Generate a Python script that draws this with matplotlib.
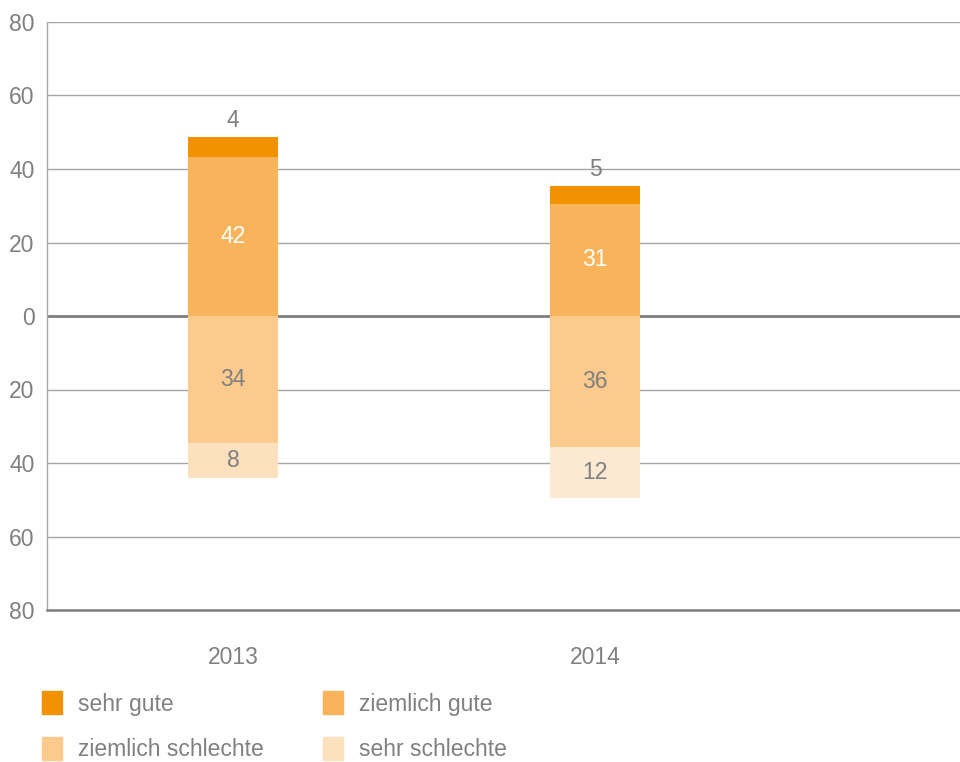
"""
Diverging stacked bars: good vs bad ratings, 2013 / 2014
"""

import numpy as np
import matplotlib.pyplot as plt
from matplotlib.patches import Rectangle
from matplotlib.ticker import FuncFormatter

plt.rcParams['font.family'] = ['Liberation Sans', 'DejaVu Sans']

years = ['2013', '2014']
categories = ['sehr gute', 'ziemlich gute', 'ziemlich schlechte', 'sehr schlechte']
colors = ['#F39200', '#F8B35B', '#FCCA8C', '#FDE0BD']
ss_colors = ['#FDE0BD', '#FDE8D1']   # 2014 segment is drawn a touch lighter

# bar heights (shares in %)
sehr_gute = [5.3, 4.8]
ziemlich_gute = [43.4, 30.6]
ziemlich_schlechte = [34.6, 35.7]
sehr_schlechte = [9.5, 13.9]

# printed labels
lbl_sehr_gute = ['4', '5']
lbl_ziemlich_gute = ['42', '31']
lbl_ziemlich_schlechte = ['34', '36']
lbl_sehr_schlechte = ['8', '12']

grey = '#808080'
fs = 16.5

fig = plt.figure(figsize=(9.6, 7.62), dpi=100)
ax = fig.add_axes([47/960, 1-610/762, 1-47/960, (610-22)/762])

x = np.arange(len(years))
w = 0.25
zg = np.array(ziemlich_gute)
sg = np.array(sehr_gute)
zs = -np.array(ziemlich_schlechte)
ss = -np.array(sehr_schlechte)

ax.bar(x, zg, w, color=colors[1], zorder=3)
ax.bar(x, sg, w, bottom=zg, color=colors[0], zorder=3)
ax.bar(x, zs, w, color=colors[2], zorder=3)
ax.bar(x, ss, w, bottom=zs, color=ss_colors, zorder=3)

for i in range(len(years)):
    ax.text(x[i], zg[i]/2, lbl_ziemlich_gute[i], ha='center', va='center',
            color='white', fontsize=fs, zorder=4)
    ax.annotate(lbl_sehr_gute[i], (x[i], zg[i]+sg[i]), xytext=(0, 12),
                textcoords='offset points', ha='center', va='center',
                color=grey, fontsize=fs)
    ax.text(x[i], zs[i]/2, lbl_ziemlich_schlechte[i], ha='center', va='center',
            color=grey, fontsize=fs, zorder=4)
    ax.text(x[i], zs[i]+ss[i]/2, lbl_sehr_schlechte[i], ha='center', va='center',
            color=grey, fontsize=fs, zorder=4)

ax.set_xlim(-0.514, 2.008)
ax.set_ylim(-80, 80)
ax.set_yticks(np.arange(-80, 81, 20))
ax.yaxis.set_major_formatter(FuncFormatter(lambda v, p: '%d' % abs(v)))
ax.set_xticks(x)
ax.set_xticklabels(years)
ax.tick_params(axis='both', length=0, labelsize=fs, labelcolor=grey)
ax.tick_params(axis='y', pad=9)
ax.tick_params(axis='x', pad=26)

ax.grid(axis='y', color='#A6A6A6', lw=1, zorder=1)
ax.axhline(0, color='#7F7F7F', lw=2, zorder=2)
for s in ['top', 'right']:
    ax.spines[s].set_visible(False)
ax.spines['left'].set_color('#A6A6A6')
ax.spines['left'].set_linewidth(1)
ax.spines['bottom'].set_color('#7F7F7F')
ax.spines['bottom'].set_linewidth(1.8)

# legend, two columns
W, H = 960, 762
cols_x = [42, 323]
rows_y = [691, 737]
for k, name in enumerate(categories):
    px = cols_x[k % 2]
    py = rows_y[k // 2]
    fig.add_artist(Rectangle((px/W, 1-(py+23)/H), 20/W, 23/H,
                             transform=fig.transFigure, color=colors[k]))
    fig.text((px+36)/W, 1-(py+13)/H, name, ha='left', va='center',
             color=grey, fontsize=fs)

plt.savefig('out.png', dpi=100)
